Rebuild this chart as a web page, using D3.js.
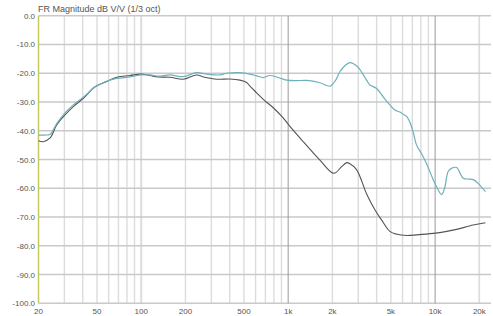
<!DOCTYPE html>
<html>
<head>
<meta charset="utf-8">
<script src="https://cdn.jsdelivr.net/npm/d3@7"></script>
<style>
  body { margin: 0; background: #fff; }
  text { font-family: "Liberation Sans", Arial, sans-serif; fill: #555; }
</style>
</head>
<body>
<div id="chart"></div>
<script>
// data (Hz, dB)
const tealFreq = [20, 22, 24, 26.6, 30.3, 34.5, 40.4, 48.5, 58.2, 68.1, 83.9, 100, 115, 130, 157, 193, 238, 279, 343, 381, 470, 549, 610, 676, 751, 856, 976, 1130, 1336, 1644, 1923, 2100, 2249, 2450, 2630, 2800, 3000, 3417, 3600, 4000, 4430, 4920, 5320, 5760, 6060, 6400, 6730, 7090, 7480, 8090, 8750, 9700, 10230, 11070, 11600, 12270, 13000, 14000, 15520, 17000, 18150, 19620, 22000];
const tealDb = [-41.5, -41.5, -41.2, -37.5, -33.8, -31.0, -28.3, -24.8, -22.8, -21.8, -21.3, -20.6, -20.6, -21.0, -20.6, -21.2, -19.8, -20.3, -20.6, -20.0, -19.8, -20.3, -20.9, -21.5, -20.8, -21.5, -22.4, -22.6, -22.5, -23.3, -24.5, -22.5, -19.5, -17.2, -16.3, -16.8, -18.0, -22.4, -24.1, -25.3, -28.2, -31.0, -32.8, -33.5, -34.3, -35.0, -37.0, -40.5, -45.0, -48.0, -51.5, -57.0, -59.5, -62.2, -60.0, -54.2, -53.0, -52.8, -56.5, -56.8, -57.0, -58.3, -61.2];

const darkFreq = [20, 21.5, 24, 26.6, 30.3, 34.5, 40.4, 48.5, 58.2, 68.1, 83.9, 100, 115, 130, 157, 193, 238, 271, 326, 400, 470, 522, 549, 610, 695, 791, 925, 1028, 1266, 1644, 2047, 2310, 2500, 2630, 2920, 3420, 3890, 4320, 4920, 5500, 6400, 7500, 9700, 12000, 14000, 18150, 22000];
const darkDb = [-43.5, -43.8, -42.5, -38.0, -34.5, -31.6, -28.7, -24.7, -22.9, -21.4, -20.8, -20.3, -20.8, -21.3, -21.4, -22.1, -20.6, -21.4, -22.1, -22.0, -22.4, -23.2, -24.5, -26.8, -29.6, -32.0, -35.5, -38.5, -43.8, -50.2, -54.8, -52.5, -51.1, -51.5, -53.5, -62.0, -67.5, -71.0, -75.0, -76.0, -76.4, -76.2, -75.7, -75.0, -74.3, -72.8, -72.0];

const xTicks = [20, 50, 100, 200, 500, 1000, 2000, 5000, 10000, 20000];
const xTickLabels = ['20', '50', '100', '200', '500', '1k', '2k', '5k', '10k', '20k'];
const yTicks = [0, -10, -20, -30, -40, -50, -60, -70, -80, -90, -100];
const title = 'FR Magnitude dB V/V (1/3 oct)';

const svgWidth = 493, svgHeight = 316;
const plot = {left: 38.5, right: 491, top: 15.7, bottom: 303.3};

const svg = d3.select('#chart')
    .append('svg')
    .attr('width', svgWidth)
    .attr('height', svgHeight);

const x = d3.scaleLog().domain([20, 24000]).range([plot.left, plot.right]);
const y = d3.scaleLinear().domain([-100, 0]).range([plot.bottom, plot.top]);

// vertical grid: every 1-2-3..9 step per decade
const minor = [];
[10, 100, 1000, 10000].forEach(dec => {
    for (let k = 1; k < 10; k++) {
        const f = dec * k;
        if (f >= 20 && f <= 20000) minor.push(f);
    }
});
minor.push(20000);

svg.append('g')
    .selectAll('line')
    .data(minor.filter(f => f !== 1000 && f !== 10000 && f !== 20))
    .enter()
    .append('line')
    .attr('x1', d => x(d)).attr('x2', d => x(d))
    .attr('y1', plot.top).attr('y2', plot.bottom)
    .attr('stroke', '#dcdcdc')
    .attr('stroke-width', d => d === 100 ? 2 : 1.4);

// horizontal grid
svg.append('g')
    .selectAll('line')
    .data(yTicks)
    .enter()
    .append('line')
    .attr('x1', plot.left).attr('x2', plot.right)
    .attr('y1', d => y(d)).attr('y2', d => y(d))
    .attr('stroke', '#c9c9c9')
    .attr('stroke-width', 1.5);

// decade lines
svg.append('g')
    .selectAll('line')
    .data([1000, 10000])
    .enter()
    .append('line')
    .attr('x1', d => x(d)).attr('x2', d => x(d))
    .attr('y1', plot.top).attr('y2', plot.bottom)
    .attr('stroke', '#999')
    .attr('stroke-width', 1);

// left edge (yellowish cursor line)
svg.append('line')
    .attr('x1', x(20)).attr('x2', x(20))
    .attr('y1', plot.top).attr('y2', plot.bottom)
    .attr('stroke', '#c8c860')
    .attr('stroke-width', 1.5);

// curves
const line = d3.line()
    .x(d => x(d[0]))
    .y(d => y(d[1]))
    .curve(d3.curveCatmullRom);

svg.append('path')
    .datum(darkFreq.map((f, i) => [f, darkDb[i]]))
    .attr('fill', 'none')
    .attr('stroke', '#555')
    .attr('stroke-width', 1.1)
    .attr('d', line);

svg.append('path')
    .datum(tealFreq.map((f, i) => [f, tealDb[i]]))
    .attr('fill', 'none')
    .attr('stroke', '#6eb0bc')
    .attr('stroke-width', 1.2)
    .attr('d', line);

// y labels
svg.append('g')
    .selectAll('text')
    .data(yTicks)
    .enter()
    .append('text')
    .attr('x', 35)
    .attr('y', d => y(d) + 3)
    .attr('text-anchor', 'end')
    .attr('font-size', 8)
    .text(d => d.toFixed(1));

// x labels
svg.append('g')
    .selectAll('text')
    .data(xTicks)
    .enter()
    .append('text')
    .attr('x', d => x(d))
    .attr('y', 314)
    .attr('text-anchor', 'middle')
    .attr('font-size', 8)
    .text((d, i) => xTickLabels[i]);

svg.append('text')
    .attr('x', 38)
    .attr('y', 12)
    .attr('font-size', 9)
    .attr('fill', '#444')
    .text(title);
</script>
</body>
</html>
